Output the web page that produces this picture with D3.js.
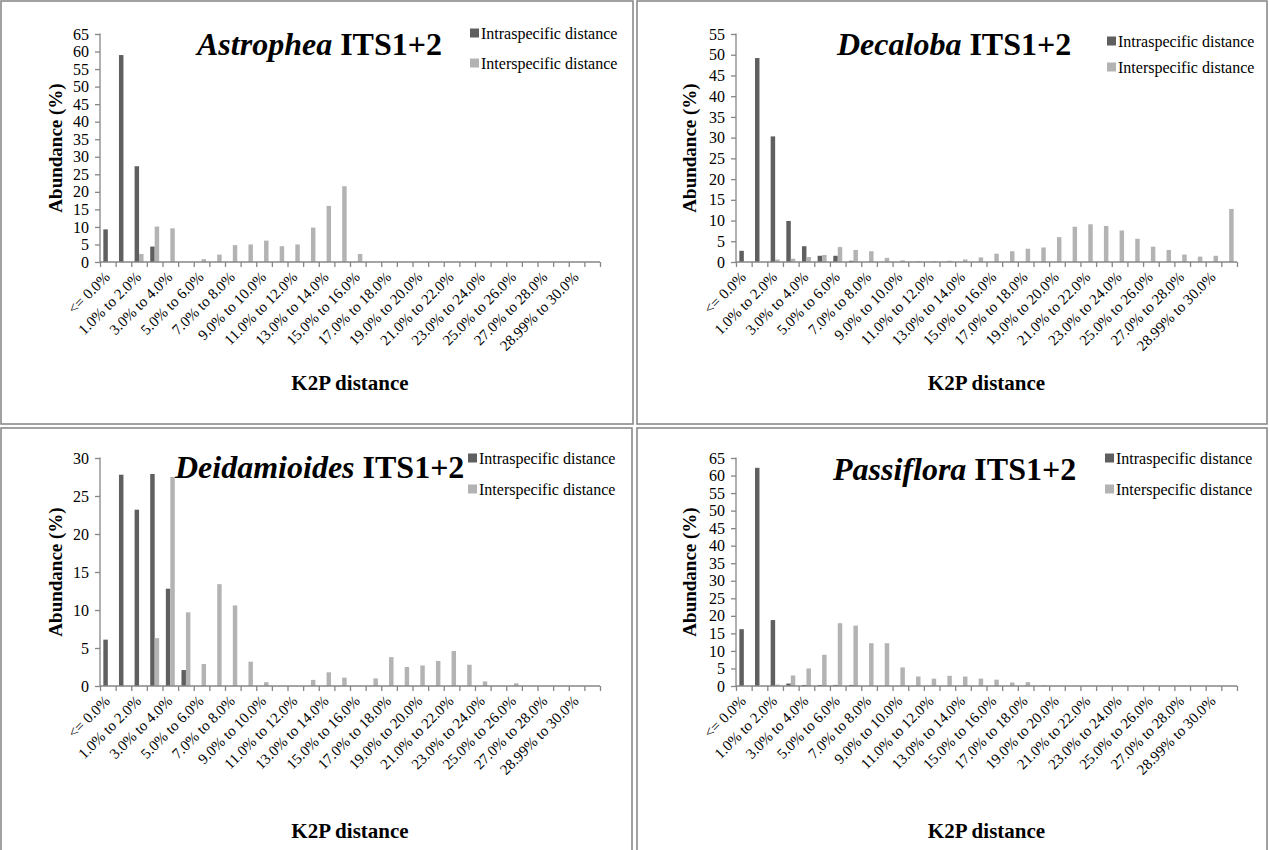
<!DOCTYPE html>
<html><head><meta charset="utf-8">
<script src="https://cdn.jsdelivr.net/npm/d3@7"></script>
<style>
body{margin:0;background:#fff}
text{font-family:"Liberation Serif","Times New Roman",Times,serif;fill:#000}
</style>
</head><body><svg id="c" width="1269" height="850"></svg>
<script>
// ---- categories (32 bins) ----
const categories = ["<= 0.0%","0.0% to 1.0%","1.0% to 2.0%","2.0% to 3.0%","3.0% to 4.0%","4.0% to 5.0%",
 "5.0% to 6.0%","6.0% to 7.0%","7.0% to 8.0%","8.0% to 9.0%","9.0% to 10.0%","10.0% to 11.0%",
 "11.0% to 12.0%","12.0% to 13.0%","13.0% to 14.0%","14.0% to 15.0%","15.0% to 16.0%","16.0% to 17.0%",
 "17.0% to 18.0%","18.0% to 19.0%","19.0% to 20.0%","20.0% to 21.0%","21.0% to 22.0%","22.0% to 23.0%",
 "23.0% to 24.0%","24.0% to 25.0%","25.0% to 26.0%","26.0% to 27.0%","27.0% to 28.0%","28.0% to 28.99%",
 "28.99% to 30.0%","> 30.0%"];
const shownTickLabels = ["<= 0.0%","1.0% to 2.0%","3.0% to 4.0%","5.0% to 6.0%","7.0% to 8.0%","9.0% to 10.0%",
 "11.0% to 12.0%","13.0% to 14.0%","15.0% to 16.0%","17.0% to 18.0%","19.0% to 20.0%","21.0% to 22.0%",
 "23.0% to 24.0%","25.0% to 26.0%","27.0% to 28.0%","28.99% to 30.0%"];
const seriesNames = ["Intraspecific distance","Interspecific distance"];

// ---- values (%) ----
const astropheaIntra = [9.3,59.0,27.3,4.4,0,0,0,0,0,0,0,0,0,0,0,0,0,0,0,0,0,0,0,0,0,0,0,0,0,0,0,0];
const astropheaInter = [0,0,2.3,10.1,9.6,0,0.8,2.1,4.8,5.0,6.1,4.5,5.0,9.8,16.0,21.6,2.3,0,0,0,0,0,0,0,0,0,0,0,0,0,0,0];

const decalobaIntra = [2.7,49.2,30.3,9.9,3.8,1.5,1.5,0.3,0,0,0,0,0,0,0,0,0,0,0,0,0,0,0,0,0,0,0,0,0,0,0,0];
const decalobaInter = [0,0,0.6,0.8,1.2,1.7,3.6,2.9,2.6,1.0,0.4,0.2,0.2,0.3,0.6,1.1,2.0,2.6,3.2,3.5,6.0,8.5,9.1,8.7,7.6,5.6,3.7,2.9,1.8,1.3,1.5,12.8];

const deidamioidesIntra = [6.1,27.8,23.2,27.9,12.8,2.1,0,0,0,0,0,0,0,0,0,0,0,0,0,0,0,0,0,0,0,0,0,0,0,0,0,0];
const deidamioidesInter = [0,0,0,6.3,27.5,9.7,2.9,13.4,10.6,3.2,0.5,0,0,0.8,1.8,1.1,0,1.0,3.8,2.5,2.7,3.3,4.6,2.8,0.6,0,0.35,0,0,0,0,0];

const passifloraIntra = [16.2,62.2,18.8,0.7,0.3,0.3,0.3,0.3,0,0,0,0,0,0,0,0,0,0,0,0,0,0,0,0,0,0,0,0,0,0,0,0];
const passifloraInter = [0,0,0.4,3.0,5.0,8.9,17.9,17.2,12.2,12.2,5.3,2.7,2.1,2.9,2.7,2.1,1.8,1.0,1.1,0.2,0,0,0,0,0,0,0,0,0,0,0,0];

const yMaxima = [65,55,30,65];
const genera = ["Astrophea","Decaloba","Deidamioides","Passiflora"];

// ---- layout (not data) ----
const panels = [
 {genus:genera[0], intra:astropheaIntra, inter:astropheaInter, yMax:yMaxima[0],
  left:100,right:600,top:34,bottom:262, titleX:197,titleY:55, legX:470,legY:[33,63], ylabX:62, xlabY:390,
  box:[1,1,632,423]},
 {genus:genera[1], intra:decalobaIntra, inter:decalobaInter, yMax:yMaxima[1],
  left:736,right:1237,top:34,bottom:262, titleX:837,titleY:55, legX:1107,legY:[41,67], ylabX:696, xlabY:390,
  box:[637,1,630,423]},
 {genus:genera[2], intra:deidamioidesIntra, inter:deidamioidesInter, yMax:yMaxima[2],
  left:100,right:600,top:458,bottom:686, titleX:175,titleY:478, legX:468,legY:[458,489], ylabX:62, xlabY:838,
  box:[1,428,631,440]},
 {genus:genera[3], intra:passifloraIntra, inter:passifloraInter, yMax:yMaxima[3],
  left:736,right:1237,top:458,bottom:686, titleX:833,titleY:480, legX:1105,legY:[458,489], ylabX:696, xlabY:838,
  box:[637,428,630,440]}
];

const colors = ["#5f5f5f","#b3b3b3"];
const axisColor = "#868686";
const svg = d3.select("#c");

panels.forEach(p => {
  const g = svg.append("g");
  g.append("rect").attr("x",p.box[0]).attr("y",p.box[1]).attr("width",p.box[2]).attr("height",p.box[3])
    .attr("fill","none").attr("stroke","#8a8a8a").attr("stroke-width",1.6);

  const x = d3.scaleBand().domain(categories).range([p.left,p.right]).paddingInner(0).paddingOuter(0);
  const xEdges = d3.scaleLinear().domain([0,categories.length]).range([p.left,p.right]);
  const y = d3.scaleLinear().domain([0,p.yMax]).range([p.bottom,p.top]);
  const bw = x.bandwidth();
  const sub = d3.scaleBand().domain([0,1]).range([0,bw]).paddingInner(0).paddingOuter(0.75);

  // bars
  [p.intra,p.inter].forEach((vals,si) => {
    g.append("g").selectAll("rect").data(vals.map((v,i)=>({c:categories[i],v})).filter(d=>d.v>0))
      .join("rect")
      .attr("x",d=>x(d.c)+sub(si)).attr("width",sub.bandwidth())
      .attr("y",d=>y(d.v)).attr("height",d=>y(0)-y(d.v))
      .attr("fill",colors[si]);
  });

  // y axis
  const ya = g.append("g").attr("transform",`translate(${p.left},0)`)
    .call(d3.axisLeft(y).tickValues(d3.range(0,p.yMax+0.1,5)).tickSize(5).tickPadding(6));
  ya.selectAll("path,line").attr("stroke",axisColor).attr("stroke-width",1.3);
  ya.select(".domain").attr("d",`M-0,${p.bottom}V${p.top-0.5}`);
  ya.selectAll("text").attr("font-size",16).attr("font-family","Liberation Serif").attr("fill","#000");

  // x axis boundary ticks
  const xa = g.append("g").attr("transform",`translate(0,${p.bottom})`)
    .call(d3.axisBottom(xEdges).tickValues(d3.range(0,categories.length+1)).tickFormat("").tickSize(5));
  xa.selectAll("path,line").attr("stroke",axisColor).attr("stroke-width",1.3);
  xa.select(".domain").attr("d",`M${p.left},0H${p.right}`);

  // x labels
  const xl = g.append("g").attr("transform",`translate(0,${p.bottom})`)
    .call(d3.axisBottom(x).tickValues(shownTickLabels).tickSize(0));
  xl.select(".domain").remove();
  xl.selectAll("text").attr("font-size",15).attr("font-family","Liberation Serif").attr("fill","#000")
    .attr("text-anchor","end").attr("x",0).attr("y",0).attr("dy",0)
    .attr("transform","translate(3,16) rotate(-45)");

  // axis titles
  g.append("text").attr("transform",`translate(${p.ylabX},${(p.top+p.bottom)/2}) rotate(-90)`)
    .attr("text-anchor","middle").attr("font-size",19).attr("font-weight","bold").text("Abundance (%)");
  g.append("text").attr("x",(p.left+p.right)/2).attr("y",p.xlabY).attr("text-anchor","middle")
    .attr("font-size",21).attr("font-weight","bold").text("K2P distance");

  // title
  const t = g.append("text").attr("x",p.titleX).attr("y",p.titleY).attr("font-size",32).attr("font-weight","bold");
  t.append("tspan").attr("font-style","italic").text(p.genus);
  t.append("tspan").text(" ITS1+2");

  // legend
  seriesNames.forEach((s,i) => {
    g.append("rect").attr("x",p.legX).attr("y",p.legY[i]-4.5).attr("width",9).attr("height",9).attr("fill",colors[i]);
    g.append("text").attr("x",p.legX+11).attr("y",p.legY[i]).attr("dy","0.35em").attr("font-size",16).text(s);
  });
});
</script>
</body></html>
